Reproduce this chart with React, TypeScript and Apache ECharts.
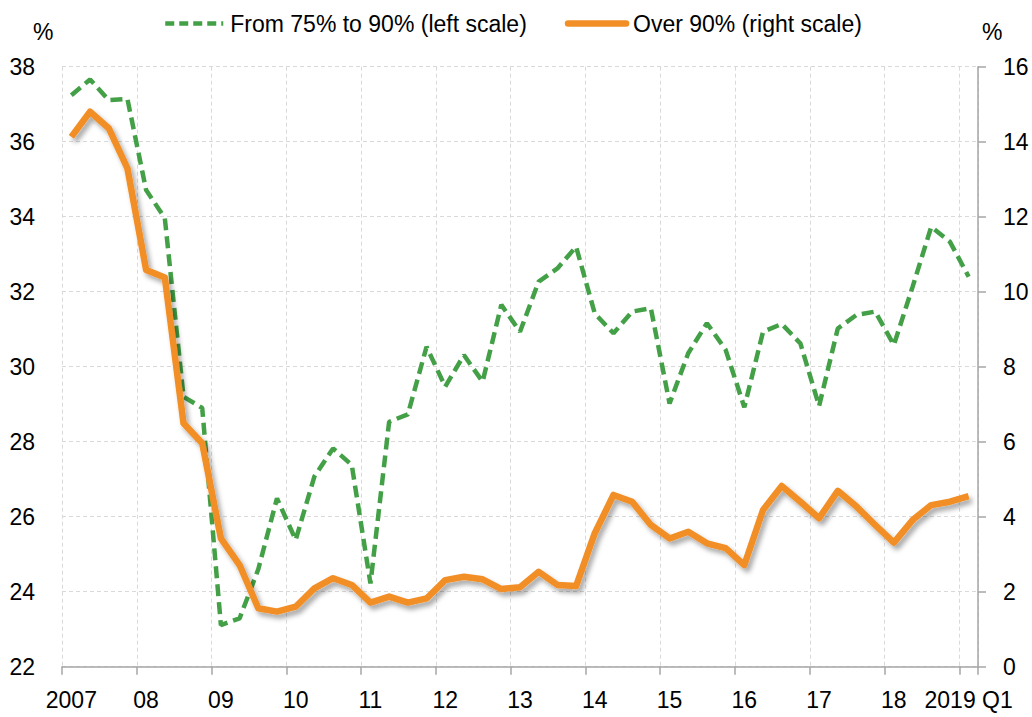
import React, { useEffect, useRef } from "react";
import * as echarts from "echarts";

const YEARS = [2007, 2008, 2009, 2010, 2011, 2012, 2013, 2014, 2015, 2016, 2017, 2018, 2019];
const QUARTERS = ["Q1", "Q2", "Q3", "Q4"];
const categories: string[] = [];
YEARS.forEach((y) => {
  QUARTERS.forEach((q) => {
    if (y < 2019 || q === "Q1") categories.push(`${y} ${q}`);
  });
});

// From 75% to 90% (left scale)
const from75to90 = [
  37.24, 37.66, 37.11, 37.14, 34.71, 33.96, 29.2, 28.9, 23.11, 23.29, 24.6, 26.49, 25.38,
  27.07, 27.82, 27.38, 24.22, 28.53, 28.73, 30.53, 29.47, 30.31, 29.6, 31.65, 30.93, 32.27,
  32.62, 33.2, 31.42, 30.89, 31.47, 31.56, 29.02, 30.36, 31.16, 30.45, 28.92, 30.93, 31.14,
  30.62, 28.95, 31.02, 31.38, 31.47, 30.58, 32.13, 33.73, 33.33, 32.4,
];

// Over 90% (right scale)
const over90 = [
  14.13, 14.8, 14.36, 13.29, 10.58, 10.38, 6.49, 5.96, 3.42, 2.71, 1.56, 1.47, 1.6, 2.09,
  2.36, 2.18, 1.71, 1.87, 1.71, 1.82, 2.31, 2.4, 2.33, 2.07, 2.12, 2.53, 2.18, 2.15, 3.56,
  4.58, 4.4, 3.78, 3.42, 3.6, 3.29, 3.16, 2.71, 4.18, 4.82, 4.4, 3.96, 4.69, 4.27, 3.78,
  3.31, 3.91, 4.31, 4.4, 4.55,
];

const SERIES_NAMES = ["From 75% to 90% (left scale)", "Over 90% (right scale)"];
const LEFT_AXIS = { min: 22, max: 38, interval: 2 };
const RIGHT_AXIS = { min: 0, max: 16, interval: 2 };

const FONT = "'Liberation Sans', Arial, sans-serif";
const GREEN = "#43a047";
const ORANGE = "#f28e26";
const GRID = "#d9d9d9";
const AXIS = "#a6a6a6";

function xLabel(v: string): string {
  const [y, q] = v.split(" ");
  if (q !== "Q1") return "";
  if (y === "2007") return "2007";
  if (y === "2019") return "2019 Q1";
  return y.slice(2);
}

export default function App() {
  const ref = useRef<HTMLDivElement>(null);
  useEffect(() => {
    if (!ref.current) return;
    const chart = echarts.init(ref.current, undefined, { renderer: "svg" });
    chart.setOption({
      animation: false,
      backgroundColor: "#ffffff",
      textStyle: { fontFamily: FONT },
      grid: { left: 62, right: 54, top: 66.7, bottom: 50.3, containLabel: false },
      legend: {
        top: 7,
        left: 158,
        itemWidth: 58,
        itemHeight: 14,
        itemGap: 38,
        itemStyle: { opacity: 0 },
        textStyle: { fontFamily: FONT, fontSize: 23, color: "#000", padding: [0, 0, 0, 2] },
        data: [
          { name: SERIES_NAMES[0], lineStyle: { width: 4.5, type: [9, 5], color: GREEN } },
          { name: SERIES_NAMES[1], lineStyle: { width: 6.5, color: ORANGE, cap: "round" } },
        ],
      },
      graphic: [
        {
          type: "text",
          left: 33,
          top: 20,
          style: { text: "%", font: `23px ${FONT}`, fill: "#000" },
        },
        {
          type: "text",
          left: 982,
          top: 20,
          style: { text: "%", font: `23px ${FONT}`, fill: "#000" },
        },
      ],
      xAxis: {
        type: "category",
        data: categories,
        boundaryGap: true,
        axisLine: { show: true, lineStyle: { color: AXIS, width: 1.5 } },
        axisTick: { show: true, interval: 3, length: 8, lineStyle: { color: AXIS, width: 1.5 } },
        axisLabel: {
          interval: 3,
          margin: 22,
          fontSize: 23,
          fontFamily: FONT,
          color: "#000",
          formatter: xLabel,
        },
        splitLine: { show: true, interval: 3, lineStyle: { color: GRID, type: [4, 3], width: 1 } },
      },
      yAxis: [
        {
          type: "value",
          position: "left",
          min: LEFT_AXIS.min,
          max: LEFT_AXIS.max,
          interval: LEFT_AXIS.interval,
          axisLine: { show: false },
          axisTick: { show: false },
          axisLabel: { margin: 27, fontSize: 23, fontFamily: FONT, color: "#000" },
          splitLine: { show: true, lineStyle: { color: GRID, type: [4, 3], width: 1 } },
        },
        {
          type: "value",
          position: "right",
          min: RIGHT_AXIS.min,
          max: RIGHT_AXIS.max,
          interval: RIGHT_AXIS.interval,
          axisLine: { show: true, lineStyle: { color: AXIS, width: 1.5 } },
          axisTick: { show: true, length: 8, lineStyle: { color: AXIS, width: 1.5 } },
          axisLabel: { margin: 25, fontSize: 23, fontFamily: FONT, color: "#000" },
          splitLine: { show: false },
        },
      ],
      series: [
        {
          name: SERIES_NAMES[0],
          type: "line",
          yAxisIndex: 0,
          data: from75to90,
          symbol: "none",
          lineStyle: { color: GREEN, width: 4.5, type: [12, 6] },
          itemStyle: { color: GREEN },
          z: 3,
        },
        {
          name: SERIES_NAMES[1],
          type: "line",
          yAxisIndex: 1,
          data: over90,
          symbol: "none",
          lineStyle: {
            color: ORANGE,
            width: 6.5,
            join: "round",
            shadowColor: "rgba(0,0,0,0.35)",
            shadowBlur: 5,
            shadowOffsetX: 3,
            shadowOffsetY: 4,
          },
          itemStyle: { color: ORANGE },
          z: 4,
        },
      ],
    });
    return () => chart.dispose();
  }, []);
  return (
    <div
      ref={ref}
      style={{ position: "fixed", left: 0, top: 0, width: 1032, height: 717, background: "#fff" }}
    />
  );
}
